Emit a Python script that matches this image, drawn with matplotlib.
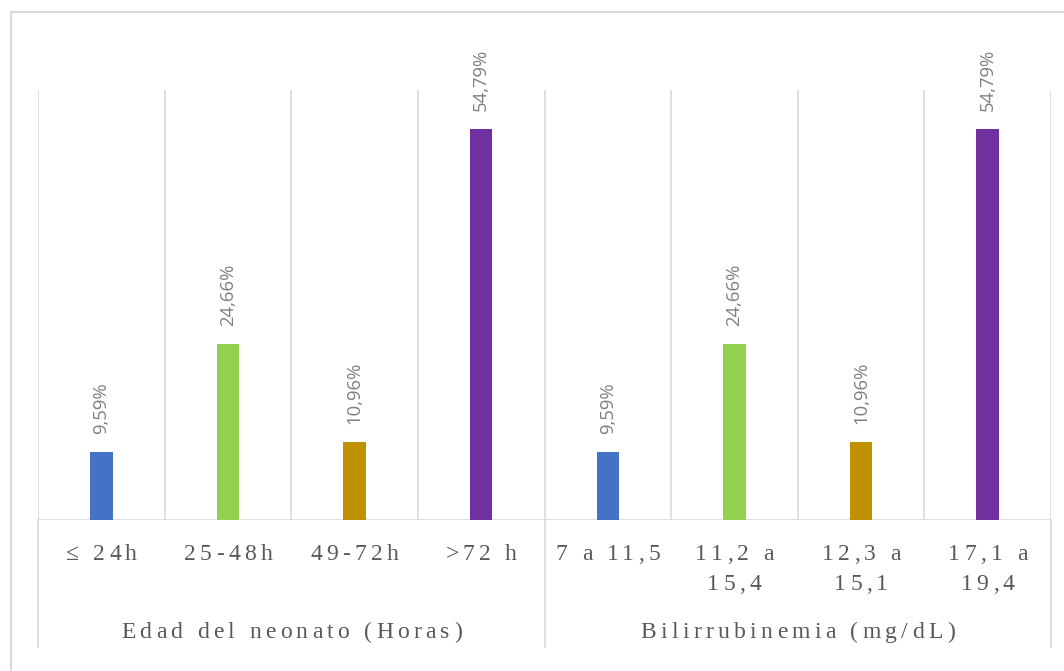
import matplotlib
matplotlib.use("Agg")
import matplotlib.pyplot as plt
from matplotlib.lines import Line2D
from matplotlib.patches import Rectangle
from matplotlib.text import Text
from matplotlib.transforms import IdentityTransform

categories = ["\u2264 24h", "25-48h", "49-72h", ">72 h",
              "7 a 11,5", "11,2 a\n15,4", "12,3 a\n15,1", "17,1 a\n19,4"]
values = [9.59, 24.66, 10.96, 54.79, 9.59, 24.66, 10.96, 54.79]
labels = ["9,59%", "24,66%", "10,96%", "54,79%", "9,59%", "24,66%", "10,96%", "54,79%"]
groups = ["Edad del neonato (Horas)", "Bilirrubinemia (mg/dL)"]
group_sizes = [4, 4]
colors = ["#4472C4", "#92D050", "#BF9000", "#7030A0"] * 2


class TrackedText(Text):
    """Text drawn with extra letter spacing (tracking, in pixels)."""

    def __init__(self, *args, tracking=0.0, line_step=30.0, **kwargs):
        super().__init__(*args, **kwargs)
        self._tracking = tracking
        self._line_step = line_step

    def draw(self, renderer):
        if not self.get_visible():
            return
        prop = self.get_fontproperties()
        x0, y0 = self.get_transform().transform(self.get_position())

        def w(s):
            if not s:
                return 0.0
            return renderer.get_text_width_height_descent(s, prop, ismath=False)[0]

        ha = self.get_horizontalalignment()
        for li, line in enumerate(self.get_text().split("\n")):
            total = w(line) + self._tracking * (len(line) - 1)
            if ha == "center":
                start = x0 - total / 2
            elif ha == "right":
                start = x0 - total
            else:
                start = x0
            yb = y0 - li * self._line_step
            for i, c in enumerate(line):
                if c.isspace():
                    continue
                xi = start + w(line[:i + 1]) - w(c) + self._tracking * i
                t = Text(xi, yb, c, fontproperties=prop, color=self.get_color(),
                         ha="left", va="baseline", transform=IdentityTransform())
                t.set_figure(self.figure)
                t.draw(renderer)


W, H = 1064, 671
fig = plt.figure(figsize=(W / 100, H / 100), dpi=100)
fig.patch.set_facecolor("white")

# outer chart frame (left/top edges visible)
fig.add_artist(Rectangle((11 / W, -0.1), 1.2, (H - 12) / H + 0.1, transform=fig.transFigure,
                         fill=False, edgecolor="#D9D9D9", linewidth=1.5))

left, right, top, bottom = 38, 1051, 90, 520
ax = fig.add_axes([left / W, 1 - bottom / H, (right - left) / W, (bottom - top) / H])
ax.set_xlim(-0.5, len(values) - 0.5)
ax.set_ylim(0, 60.25)
for s in ax.spines.values():
    s.set_visible(False)
ax.set_xticks([])
ax.set_yticks([])

x = list(range(len(values)))
ax.bar(x, values, width=0.178, color=colors, zorder=3)

grid_c = "#D9D9D9"
for b in range(len(values) + 1):
    ax.axvline(b - 0.5, color=grid_c, linewidth=1.2, zorder=1)
ax.axhline(0, color=grid_c, linewidth=1.2, zorder=2)

tr = ax.get_xaxis_transform()
edges = [-0.5]
for n in group_sizes:
    edges.append(edges[-1] + n)
for e in edges:
    ax.add_line(Line2D([e, e], [0, -0.295], transform=tr, color=grid_c,
                       linewidth=1.2, clip_on=False))

# data labels
for xi, v, lab in zip(x, values, labels):
    ax.annotate(lab, (xi, v), xytext=(0, 13), textcoords="offset points",
                rotation=90, ha="center", va="bottom", fontsize=13.3,
                family="Open Sans", color="#7F7F7F")

axes_h = bottom - top
# category labels
for xi, c in zip(x, categories):
    t = TrackedText(xi, -(560 - bottom) / axes_h, c, transform=tr, ha="center",
                    va="baseline", fontsize=17, family="Liberation Serif",
                    color="#595959", tracking=4.3, line_step=30, clip_on=False)
    ax.add_artist(t)

# group labels
start = 0
for g, n in zip(groups, group_sizes):
    center = start + (n - 1) / 2
    t = TrackedText(center, -(638 - bottom) / axes_h, g, transform=tr, ha="center",
                    va="baseline", fontsize=17, family="Liberation Serif",
                    color="#595959", tracking=4.3, clip_on=False)
    ax.add_artist(t)
    start += n

fig.savefig("out.png", dpi=100, facecolor="white")
